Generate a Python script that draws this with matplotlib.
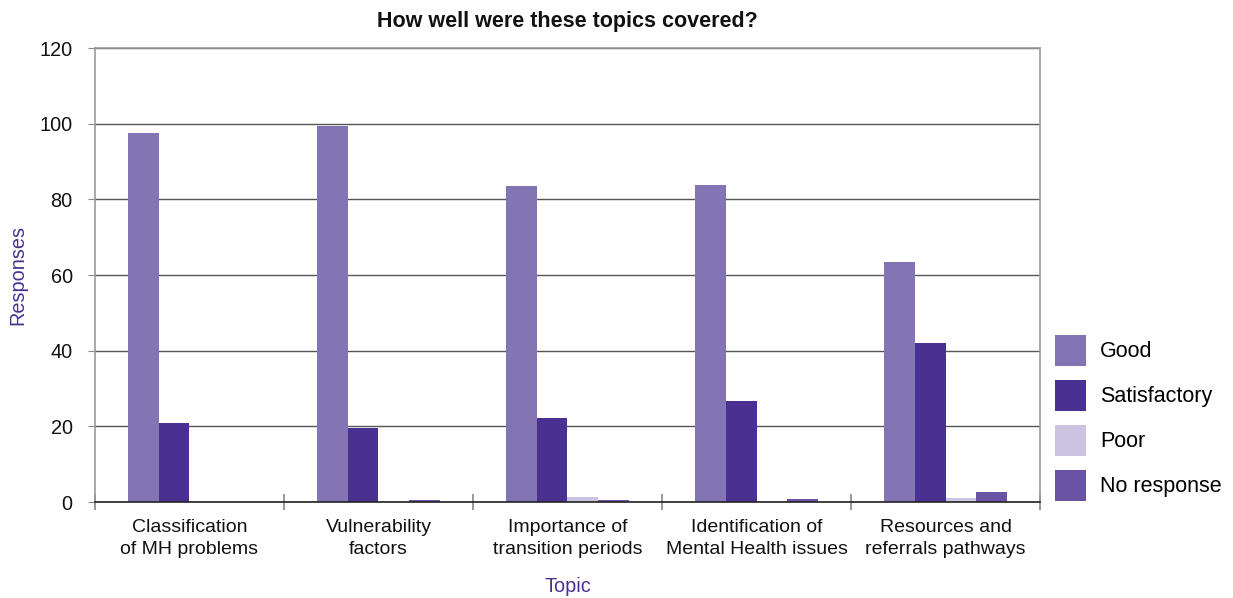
import numpy as np
import matplotlib
matplotlib.use("Agg")
import matplotlib.pyplot as plt
from matplotlib.ticker import FixedLocator

plt.rcParams['font.family'] = ['Liberation Sans', 'DejaVu Sans']

# Survey responses per topic
topics = ['Classification\nof MH problems', 'Vulnerability\nfactors',
          'Importance of\ntransition periods', 'Identification of\nMental Health issues',
          'Resources and\nreferrals pathways']
good = [97.5, 99.3, 83.6, 83.9, 63.5]
satisfactory = [20.9, 19.6, 22.2, 26.7, 42.0]
poor = [0.0, 0.0, 1.4, 0.0, 1.1]
no_response = [0.0, 0.6, 0.6, 0.9, 2.7]

series = ['Good', 'Satisfactory', 'Poor', 'No response']
colors = ['#8375b4', '#4a3191', '#cbc4e1', '#6b53a3']
values = [good, satisfactory, poor, no_response]

fig = plt.figure(figsize=(12.33, 5.98), dpi=100)
ax = fig.add_axes([0.077, 0.1605, 0.7665, 0.7592])

x = np.arange(len(topics))
w = 0.163
for i, (name, vals, c) in enumerate(zip(series, values, colors)):
    ax.bar(x + (i - 1.5) * w, vals, w, color=c, label=name, zorder=3)

ax.set_xlim(-0.5, len(topics) - 0.5)
ax.set_ylim(0, 120)
ax.set_yticks(range(0, 121, 20))
ax.grid(axis='y', color='#555555', linewidth=1.0, zorder=0)

# category labels centred, boundary ticks between groups
ax.set_xticks(x)
ax.set_xticklabels(topics, fontsize=14.0, color='#111111', linespacing=1.38)
ax.tick_params(axis='x', which='major', length=0, pad=12)
ax.xaxis.set_minor_locator(FixedLocator(np.arange(-0.5, len(topics), 1.0)))
ax.tick_params(axis='x', which='minor', length=11, direction='inout', color='#888888', width=1.2)
ax.tick_params(axis='y', length=5, color='#888888', labelsize=14.3, labelcolor='#111111', pad=11)

for s in ['left', 'right', 'top']:
    ax.spines[s].set_color('#999999')
    ax.spines[s].set_linewidth(1.2)
ax.spines['bottom'].set_color('#222222')
ax.spines['bottom'].set_linewidth(1.2)
ax.spines['bottom'].set_zorder(4)

ax.set_title('How well were these topics covered?', fontsize=15.5, fontweight='bold',
             color='#111111', pad=15)
ax.set_ylabel('Responses', fontsize=14.3, color='#4a3191')
ax.yaxis.set_label_coords(-0.071, 0.5)
ax.set_xlabel('Topic', fontsize=14.3, color='#4a3191', labelpad=14)

ax.legend(loc='center left', bbox_to_anchor=(1.007, 0.185), frameon=False, fontsize=15.5,
          handlelength=1.45, handleheight=1.84, handletextpad=0.62, labelspacing=0.65,
          borderaxespad=0)

fig.savefig('out.png', dpi=100)
